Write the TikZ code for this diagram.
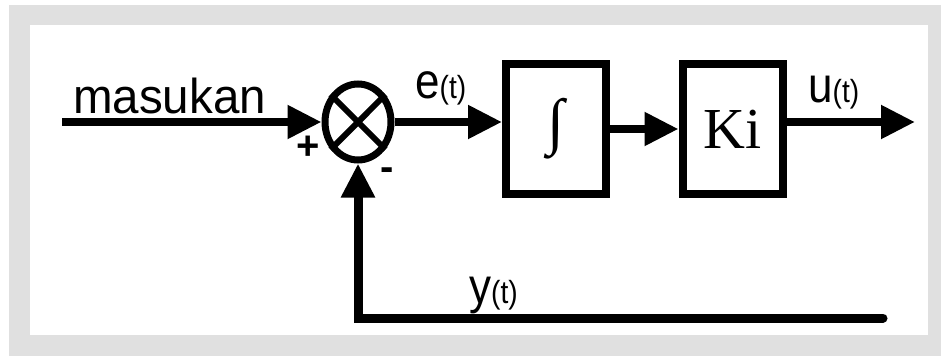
\documentclass[tikz,border=0pt]{standalone}
\usepackage{fontspec}
\setmainfont{Liberation Sans}
\newfontfamily\serifb{Liberation Serif}
\usetikzlibrary{arrows.meta,shapes.geometric,calc}
\definecolor{framegray}{HTML}{E0E0E0}
\tikzset{
  wire/.style={line width=8pt, -{Triangle[length=34pt,width=32pt]}},
  blockbox/.style={draw, line width=8pt, minimum width=100pt, minimum height=130pt, inner sep=0pt},
  lbl/.style={inner sep=0pt, font=\fontsize{50}{52}\selectfont, xscale=0.88},
}
\newcommand{\smallt}{{\fontsize{32}{34}\selectfont(t)}}
\begin{document}
\begin{tikzpicture}[x=1pt,y=-1pt]
\useasboundingbox (0,0) rectangle (941,356);
\fill[framegray] (9,5) rectangle (941,356);
\fill[white] (30,25) rectangle (928,335);
% nodes
\node[ellipse, draw, line width=7pt, minimum width=66pt, minimum height=76pt, inner sep=0pt] (sum) at (358,122) {};
\draw[line width=6pt] (sum.135) -- (sum.-45) (sum.45) -- (sum.-135);
\node[blockbox] (b1) at (556,129) {};
\node[font=\serifb\fontsize{62}{64}\selectfont, inner sep=0pt] (int) at (b1) {∫};
\node[blockbox] (b2) at (732.5,129) {};
\node[font=\serifb\fontsize{58}{60}\selectfont, inner sep=0pt] (ki) at (b2) {Ki};
\coordinate (in) at (62,122);
\coordinate (out) at (915,122);
\coordinate (fb) at (883,318);
% connectors
\draw[wire] (in) -- (sum.west);
\draw[wire] (sum.east) -- (sum.east -| b1.west);
\draw[wire] (b1.east) -- (b2.west);
\draw[wire] (b2.east |- out) -- (out);
\draw[line width=9pt, line cap=round, -{Triangle[length=34pt,width=32pt]}] (fb) -- (fb -| sum) -- (sum.south);
% labels
\node[inner sep=0pt, anchor=base west, font=\fontsize{49}{51}\selectfont, xscale=0.97] (mas) at (73,113) {masukan};
\node[inner sep=0pt, font=\bfseries\fontsize{40}{42}\selectfont] (plus) at (308,148) {+};
\node[inner sep=0pt, font=\bfseries\fontsize{40}{42}\selectfont] (minus) at (387,174) {-};
\node[lbl, anchor=base west] (e) at (415,98) {e\smallt};
\node[lbl, anchor=base west] (u) at (808,102) {u\smallt};
\node[lbl, anchor=base west] (y) at (469,303) {y\smallt};
\end{tikzpicture}
\end{document}
